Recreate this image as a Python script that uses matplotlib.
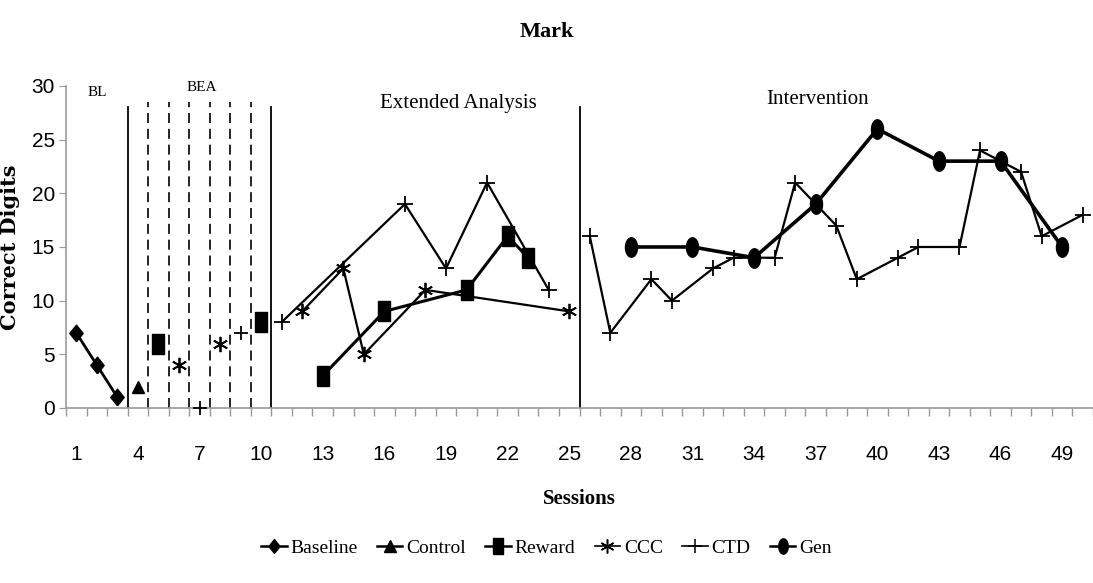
import numpy as np
import matplotlib
matplotlib.use("Agg")
import matplotlib.pyplot as plt
from matplotlib.lines import Line2D

# --- data ---------------------------------------------------------------
baseline_x = [1, 2, 3]
baseline_y = [7, 4, 1]

control_x = [4]
control_y = [2]

# brief experimental analysis (single probes, not connected)
bea_reward_x = [5, 10]
bea_reward_y = [6, 8]
bea_ccc_x = [6, 8]
bea_ccc_y = [4, 6]
bea_ctd_x = [7, 9]
bea_ctd_y = [0, 7]

# extended analysis
ext_reward_x = [13, 16, 20, 22, 23]
ext_reward_y = [3, 9, 11, 16, 14]
ext_ccc_x = [12, 14, 15, 18, 25]
ext_ccc_y = [9, 13, 5, 11, 9]
ext_ctd_x = [11, 17, 19, 21, 24]
ext_ctd_y = [8, 19, 13, 21, 11]

# intervention
int_ctd_x = [26, 27, 29, 30, 32, 33, 35, 36, 38, 39, 41, 42, 44, 45, 47, 48, 50]
int_ctd_y = [16, 7, 12, 10, 13, 14, 14, 21, 17, 12, 14, 15, 15, 24, 22, 16, 18]
gen_x = [28, 31, 34, 37, 40, 43, 46, 49]
gen_y = [15, 15, 14, 19, 26, 23, 23, 15]

phase_solid = [3.5, 10.5, 25.5]
phase_dashed = [4.5, 5.5, 6.5, 7.5, 8.5, 9.5]
xtick_labels = list(range(1, 50, 3))

# --- markers (drawn slightly tall, like the original export) -----------
t = np.linspace(0, 2 * np.pi, 40)
ellipse = list(zip(0.62 * np.cos(t), np.sin(t)))
tall_square = [(-0.62, -1), (0.62, -1), (0.62, 1), (-0.62, 1), (-0.62, -1)]
tall_diamond = [(0, -1), (0.8, 0), (0, 1), (-0.8, 0), (0, -1)]
star = (6, 2, 0)

serif = ["Liberation Serif", "DejaVu Serif"]
narrow = ["Liberation Sans Narrow", "Liberation Sans", "DejaVu Sans"]
plt.rcParams["font.family"] = serif

fig = plt.figure(figsize=(10.93, 5.83), dpi=100)
ax = fig.add_axes([0.0604, 0.3002, 0.9396, 0.5523])

k = dict(color="black", clip_on=True)
ax.plot(baseline_x, baseline_y, marker=tall_diamond, ms=12, lw=2, **k)
ax.plot(control_x, control_y, marker="^", ms=9, lw=0, **k)

ax.plot(bea_reward_x, bea_reward_y, marker=tall_square, ms=14, lw=0, **k)
ax.plot(bea_ccc_x, bea_ccc_y, marker=star, ms=11, mew=1.3, lw=0, **k)
ax.plot(bea_ctd_x, bea_ctd_y, marker="+", ms=10, mew=1.3, lw=0,
        color="black", clip_on=False, zorder=4)

ax.plot(ext_ctd_x, ext_ctd_y, marker="+", ms=11, mew=1.3, lw=1.6, **k)
ax.plot(ext_ccc_x, ext_ccc_y, marker=star, ms=11, mew=1.3, lw=1.6, **k)
ax.plot(ext_reward_x, ext_reward_y, marker=tall_square, ms=14, lw=2.2, **k)

ax.plot(int_ctd_x, int_ctd_y, marker="+", ms=11, mew=1.3, lw=1.6, **k)
ax.plot(gen_x, gen_y, marker=ellipse, ms=14, lw=2.6, **k)

# phase change lines
for x in phase_solid:
    ax.plot([x, x], [0, 28], color="black", lw=1.3)
for x in phase_dashed:
    ax.plot([x, x], [0, 28.5], color="black", lw=1.2, dashes=(6, 3.5))

# phase labels
ax.text(2.0, 29.4, "BL", ha="center", va="center", fontsize=11)
ax.text(7.1, 29.9, "BEA", ha="center", va="center", fontsize=11)
ax.text(19.6, 28.4, "Extended Analysis", ha="center", va="center", fontsize=15)
ax.text(37.1, 28.7, "Intervention", ha="center", va="center", fontsize=15)

# axes styling
ax.set_xlim(0.5, 50.06)
ax.set_ylim(0, 30)
ax.set_yticks(range(0, 31, 5))
ax.set_xticks(xtick_labels)
ax.set_xticklabels([str(v) for v in xtick_labels])
ax.set_xticks(np.arange(0.5, 51, 1), minor=True)
ax.tick_params(axis="x", which="major", length=0, pad=27)
ax.tick_params(axis="x", which="minor", length=6, color="#999999", width=1)
ax.tick_params(axis="y", length=5, color="#999999", pad=3)
for lab in ax.get_xticklabels() + ax.get_yticklabels():
    lab.set_family(narrow)
    lab.set_fontsize(15)
for s in ["top", "right"]:
    ax.spines[s].set_visible(False)
ax.spines["left"].set_color("#999999")
ax.spines["bottom"].set_color("#999999")
ax.spines["left"].set_linewidth(1.2)
ax.spines["bottom"].set_linewidth(1.2)

ax.set_ylabel("Correct Digits", fontsize=15, fontweight="bold",
              family="DejaVu Serif", labelpad=8)
ax.set_xlabel("Sessions", fontsize=15, fontweight="bold", labelpad=18)
fig.text(0.5, 0.945, "Mark", ha="center", va="center",
         fontsize=16, fontweight="bold")

handles = [
    Line2D([], [], color="black", lw=1.8, marker=tall_diamond, ms=10),
    Line2D([], [], color="black", lw=1.8, marker="^", ms=8),
    Line2D([], [], color="black", lw=1.8, marker=tall_square, ms=11),
    Line2D([], [], color="black", lw=1.2, marker=star, ms=10, mew=1.1),
    Line2D([], [], color="black", lw=1.2, marker="+", ms=10, mew=1.1),
    Line2D([], [], color="black", lw=1.8, marker=ellipse, ms=11),
]
labels = ["Baseline", "Control", "Reward", "CCC", "CTD", "Gen"]
fig.legend(handles, labels, loc="center", bbox_to_anchor=(0.5, 0.06),
           ncol=6, frameon=False, fontsize=14, handlelength=1.3,
           handletextpad=0.2, columnspacing=1.0)

fig.savefig("out.png", dpi=100)
